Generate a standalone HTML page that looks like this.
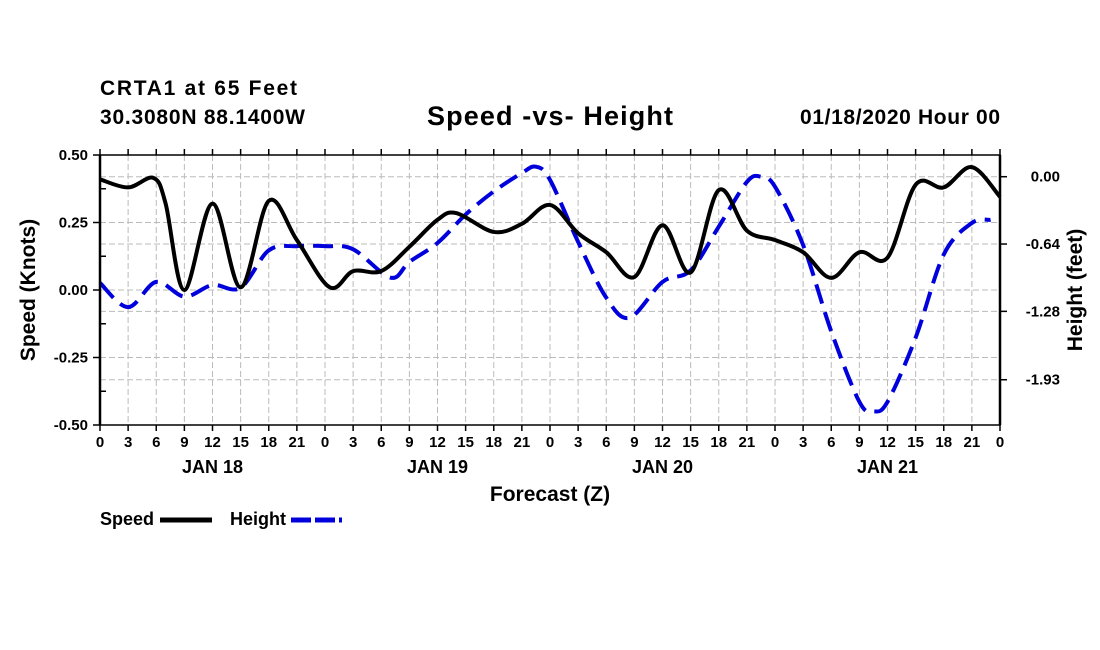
<!DOCTYPE html>
<html><head><meta charset="utf-8"><style>
html,body{margin:0;padding:0;background:#fff;}
svg{display:block;font-family:"Liberation Sans",sans-serif;font-weight:bold;}
</style></head><body>
<svg id="chart" width="1100" height="650" viewBox="0 0 1100 650">
<text x="100" y="95" font-size="21" textLength="197">CRTA1 at 65 Feet</text>
<text x="100" y="124" font-size="21" textLength="205">30.3080N 88.1400W</text>
<text x="427" y="125" font-size="27" textLength="246">Speed -vs- Height</text>
<text x="800" y="124" font-size="21" textLength="200">01/18/2020 Hour 00</text>
<g id="grid"></g>
<g id="series"></g>
<g id="axes"></g>
<text x="550" y="501" font-size="21" text-anchor="middle">Forecast (Z)</text>
<text transform="translate(35,290) rotate(-90)" font-size="21" text-anchor="middle">Speed (Knots)</text>
<text transform="translate(1082,290) rotate(-90)" font-size="21" text-anchor="middle">Height (feet)</text>
<g>
<text x="100" y="525" font-size="18">Speed</text>
<line x1="160" y1="520" x2="212" y2="520" stroke="#000" stroke-width="5"/>
<text x="230" y="525" font-size="18">Height</text>
<line x1="291" y1="520" x2="342" y2="520" stroke="#0000dd" stroke-width="5" stroke-dasharray="20,4"/>
</g>
</svg>
<script>
const speedHours=[0,3,5.7,7,9,12,15,18,21,24.5,27,30,33,36,38,42,45,48,51,54,57,60,63,66,69,72,75,78,81,84,87,90,93,96];
const speedValues=[0.41,0.38,0.415,0.32,0.0,0.32,0.01,0.33,0.185,0.01,0.07,0.07,0.16,0.26,0.285,0.215,0.245,0.315,0.21,0.14,0.048,0.24,0.065,0.37,0.22,0.185,0.14,0.045,0.14,0.12,0.39,0.38,0.455,0.345];
const heightHours=[0,3,6,9,12,15,18,21,24,27,31,33,36,39,42,45,46.5,48,51,54,56.5,60,63,66,69,70.5,72,75,78,81,82.5,84,87,90,93,95];
const heightValues=[-1.01,-1.24,-1.0,-1.14,-1.03,-1.055,-0.70,-0.66,-0.66,-0.69,-0.96,-0.81,-0.63,-0.36,-0.14,0.035,0.095,-0.03,-0.62,-1.15,-1.34,-1.0,-0.89,-0.475,-0.05,0.0,-0.095,-0.65,-1.47,-2.14,-2.23,-2.14,-1.53,-0.74,-0.44,-0.41];
const xTickLabels=["0","3","6","9","12","15","18","21","0","3","6","9","12","15","18","21","0","3","6","9","12","15","18","21","0","3","6","9","12","15","18","21","0"];
const dayLabels=["JAN 18","JAN 19","JAN 20","JAN 21"];
const leftTicks=[0.5,0.25,0,-0.25,-0.5];
const rightTicks=[0.00,-0.64,-1.28,-1.93];

const L=100,R=1000,T=155,B=425,NS='http://www.w3.org/2000/svg';
const xS=h=>L+(h/96)*(R-L);
const yL=v=>T+(0.5-v)/1.0*(B-T);
const hPx=105.2, y0R=176.7;
const yR=v=>y0R-v*hPx;
function mk(tag,attrs,parent){const e=document.createElementNS(NS,tag);for(const k in attrs)e.setAttribute(k,attrs[k]);parent.appendChild(e);return e;}
const grid=document.getElementById('grid'),axes=document.getElementById('axes'),series=document.getElementById('series');
for(let i=0;i<xTickLabels.length;i++){
  const x=xS(i*3);
  if(i>0&&i<32){const g=mk('line',{x1:x,y1:T,x2:x,y2:B,stroke:'#bbb','stroke-width':1,'stroke-dasharray':'6,3'},grid);
  
  }
  mk('line',{x1:x,y1:B,x2:x,y2:B+6,stroke:'#000','stroke-width':1.5},axes);
  mk('line',{x1:x,y1:T,x2:x,y2:T-6,stroke:'#000','stroke-width':1.5},axes);
  const t=mk('text',{x:x,y:B+22,'font-size':15,'text-anchor':'middle'},axes);t.textContent=xTickLabels[i];
  
  
}
dayLabels.forEach((d,i)=>{const t=mk('text',{x:xS(12+24*i),y:B+48,'font-size':18,'text-anchor':'middle'},axes);t.textContent=d;
  
  });
leftTicks.forEach(v=>{const y=yL(v);
  if(v<0.5&&v>-0.5){const g=mk('line',{x1:L,y1:y,x2:R,y2:y,stroke:'#bbb','stroke-width':1,'stroke-dasharray':'6,3'},grid);
  
  }
  mk('line',{x1:L-7,y1:y,x2:L,y2:y,stroke:'#000','stroke-width':1.5},axes);
  const t=mk('text',{x:L-12,y:y+5,'font-size':15,'text-anchor':'end'},axes);t.textContent=v.toFixed(2);
  
  });
[0.375,0.125,-0.125,-0.375].forEach(v=>mk('line',{x1:L,y1:yL(v),x2:L+6,y2:yL(v),stroke:'#000','stroke-width':1.5},axes));
rightTicks.forEach(v=>{const y=yR(v);
  const g=mk('line',{x1:L,y1:y,x2:R,y2:y,stroke:'#bbb','stroke-width':1,'stroke-dasharray':'6,3'},grid);
  
  
  mk('line',{x1:R,y1:y,x2:R+7,y2:y,stroke:'#000','stroke-width':1.5},axes);
  const t=mk('text',{x:R+60,y:y+5,'font-size':15,'text-anchor':'end'},axes);t.textContent=v.toFixed(2);
  
  });
mk('rect',{x:L,y:T,width:R-L,height:B-T,fill:'none',stroke:'#000','stroke-width':1.5},axes);
mk('line',{x1:L,y1:T,x2:L,y2:B,stroke:'#000','stroke-width':2.5},axes);
mk('line',{x1:R,y1:T,x2:R,y2:B,stroke:'#000','stroke-width':2.5},axes);
function smooth(pts){let d=`M${pts[0][0]},${pts[0][1]}`;
  for(let i=0;i<pts.length-1;i++){const p0=pts[Math.max(0,i-1)],p1=pts[i],p2=pts[i+1],p3=pts[Math.min(pts.length-1,i+2)];
    const c1=[p1[0]+(p2[0]-p0[0])/6,p1[1]+(p2[1]-p0[1])/6],c2=[p2[0]-(p3[0]-p1[0])/6,p2[1]-(p3[1]-p1[1])/6];
    d+=` C${c1[0]},${c1[1]} ${c2[0]},${c2[1]} ${p2[0]},${p2[1]}`;}
  return d;}
const hp=mk('path',{d:smooth(heightHours.map((h,i)=>[xS(h),yR(heightValues[i])])),fill:'none',stroke:'#0000dd','stroke-width':4,'stroke-dasharray':'20,9'},series);


const sp=mk('path',{d:smooth(speedHours.map((h,i)=>[xS(h),yL(speedValues[i])])),fill:'none',stroke:'#000','stroke-width':4},series);


</script>
</body></html>
